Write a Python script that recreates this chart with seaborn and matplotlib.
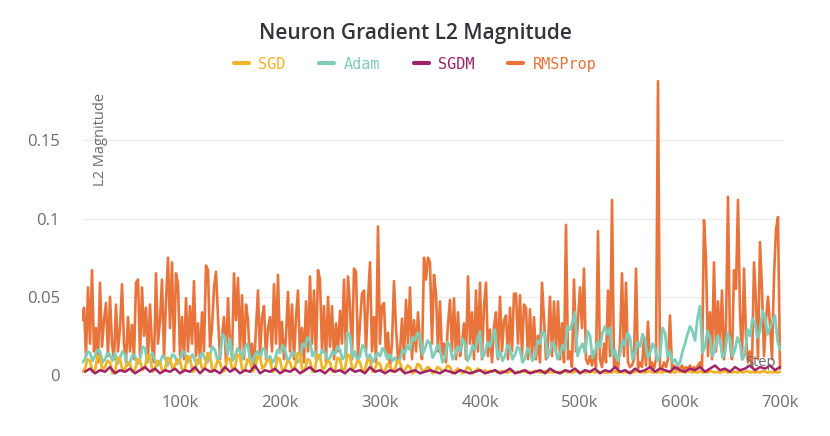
import numpy as np
import pandas as pd
import matplotlib
matplotlib.use("Agg")
import matplotlib.pyplot as plt
import seaborn as sns
from matplotlib.ticker import FuncFormatter


### Data ###

# RMSProp, one value every 2k steps (2k .. 700k)
rms_steps = np.arange(2000, 700001, 2000)
rms_vals = [
    0.035, 0.043, 0.012, 0.056, 0.020, 0.067, 0.015, 0.030, 0.008, 0.059, 0.018, 0.035, 0.046,
    0.012, 0.050, 0.020, 0.010, 0.045, 0.015, 0.030, 0.058, 0.020, 0.008, 0.037, 0.015,
    0.032, 0.010, 0.059, 0.061, 0.012, 0.056, 0.025, 0.043, 0.010, 0.045, 0.018, 0.008, 0.065,
    0.020, 0.035, 0.061, 0.012, 0.047, 0.075, 0.030, 0.072, 0.015, 0.065, 0.058, 0.012,
    0.037, 0.010, 0.049, 0.015, 0.044, 0.020, 0.060, 0.012, 0.033, 0.008, 0.040, 0.015, 0.070,
    0.067, 0.018, 0.030, 0.056, 0.066, 0.037, 0.010, 0.025, 0.037, 0.008, 0.049, 0.020,
    0.012, 0.065, 0.035, 0.062, 0.015, 0.051, 0.010, 0.045, 0.035, 0.008, 0.020, 0.005, 0.030,
    0.054, 0.012, 0.037, 0.044, 0.010, 0.030, 0.037, 0.015, 0.058, 0.020, 0.064, 0.015,
    0.034, 0.010, 0.025, 0.053, 0.015, 0.045, 0.010, 0.037, 0.054, 0.012, 0.030, 0.008, 0.047,
    0.015, 0.063, 0.020, 0.054, 0.010, 0.067, 0.061, 0.015, 0.044, 0.008, 0.050, 0.018,
    0.044, 0.010, 0.033, 0.015, 0.041, 0.020, 0.061, 0.012, 0.063, 0.044, 0.010, 0.068, 0.066,
    0.012, 0.033, 0.052, 0.054, 0.015, 0.048, 0.072, 0.015, 0.037, 0.008, 0.095, 0.020,
    0.044, 0.046, 0.012, 0.027, 0.005, 0.020, 0.060, 0.030, 0.010, 0.015, 0.036, 0.010, 0.048,
    0.020, 0.056, 0.010, 0.035, 0.015, 0.040, 0.020, 0.010, 0.075, 0.061, 0.075, 0.072,
    0.020, 0.064, 0.052, 0.015, 0.047, 0.012, 0.020, 0.008, 0.033, 0.048, 0.015, 0.049, 0.010,
    0.040, 0.012, 0.020, 0.033, 0.010, 0.063, 0.020, 0.040, 0.010, 0.054, 0.015, 0.059,
    0.010, 0.044, 0.059, 0.012, 0.029, 0.008, 0.031, 0.040, 0.010, 0.050, 0.015, 0.035, 0.038,
    0.010, 0.043, 0.015, 0.052, 0.052, 0.020, 0.051, 0.012, 0.045, 0.043, 0.010, 0.042,
    0.012, 0.037, 0.010, 0.025, 0.008, 0.059, 0.036, 0.010, 0.020, 0.050, 0.012, 0.047, 0.015,
    0.047, 0.010, 0.033, 0.008, 0.096, 0.010, 0.015, 0.005, 0.061, 0.015, 0.035, 0.056,
    0.030, 0.068, 0.010, 0.007, 0.012, 0.006, 0.015, 0.005, 0.092, 0.010, 0.005, 0.020, 0.008,
    0.054, 0.012, 0.112, 0.005, 0.010, 0.004, 0.020, 0.065, 0.012, 0.059, 0.008, 0.005,
    0.006, 0.010, 0.068, 0.004, 0.008, 0.005, 0.024, 0.006, 0.034, 0.005, 0.008, 0.004, 0.010,
    0.188, 0.005, 0.004, 0.008, 0.005, 0.010, 0.038, 0.004, 0.006, 0.003, 0.005, 0.004,
    0.006, 0.003, 0.005, 0.004, 0.006, 0.003, 0.005, 0.004, 0.006, 0.008, 0.004, 0.099, 0.074,
    0.012, 0.040, 0.010, 0.072, 0.015, 0.047, 0.020, 0.054, 0.010, 0.032, 0.114, 0.020,
    0.010, 0.067, 0.055, 0.112, 0.040, 0.010, 0.068, 0.024, 0.008, 0.015, 0.005, 0.072, 0.047,
    0.010, 0.085, 0.054, 0.012, 0.035, 0.050, 0.032, 0.010, 0.063, 0.093, 0.101, 0.004,
]

# Adam and SGD, one value every 2.5k steps (2.5k .. 700k)
steps_2k5 = np.arange(2500, 700001, 2500)
adam_vals = [
    0.008, 0.010, 0.015, 0.014, 0.009, 0.012, 0.016, 0.015, 0.008, 0.010, 0.014, 0.013, 0.009, 0.014, 0.007, 0.011, 0.015, 0.013, 0.006, 0.008,
    0.013, 0.012, 0.007, 0.010, 0.018, 0.017, 0.008, 0.012, 0.014, 0.009, 0.006, 0.008, 0.012, 0.011, 0.006, 0.009, 0.013, 0.012, 0.007, 0.010,
    0.015, 0.014, 0.008, 0.011, 0.013, 0.009, 0.007, 0.012, 0.014, 0.010, 0.008, 0.013, 0.018, 0.016, 0.009, 0.012, 0.026, 0.024, 0.013, 0.023,
    0.009, 0.012, 0.017, 0.015, 0.010, 0.018, 0.020, 0.011, 0.008, 0.013, 0.015, 0.010, 0.017, 0.016, 0.009, 0.012, 0.008, 0.010, 0.016, 0.014,
    0.019, 0.016, 0.009, 0.011, 0.015, 0.013, 0.008, 0.010, 0.020, 0.018, 0.024, 0.022, 0.012, 0.015, 0.010, 0.012, 0.016, 0.014, 0.009, 0.011,
    0.015, 0.013, 0.018, 0.016, 0.010, 0.012, 0.027, 0.025, 0.011, 0.015, 0.009, 0.012, 0.019, 0.017, 0.010, 0.013, 0.008, 0.011, 0.014, 0.012,
    0.017, 0.015, 0.010, 0.013, 0.009, 0.011, 0.008, 0.010, 0.016, 0.014, 0.019, 0.016, 0.024, 0.022, 0.027, 0.025, 0.013, 0.017, 0.022, 0.020,
    0.011, 0.014, 0.019, 0.016, 0.008, 0.011, 0.021, 0.018, 0.010, 0.013, 0.018, 0.015, 0.023, 0.020, 0.009, 0.012, 0.019, 0.016, 0.022, 0.028,
    0.011, 0.014, 0.021, 0.018, 0.024, 0.029, 0.011, 0.015, 0.009, 0.012, 0.019, 0.017, 0.010, 0.013, 0.018, 0.016, 0.008, 0.011, 0.017, 0.014,
    0.009, 0.012, 0.022, 0.020, 0.028, 0.026, 0.011, 0.015, 0.021, 0.018, 0.010, 0.013, 0.019, 0.016, 0.031, 0.029, 0.034, 0.040, 0.012, 0.017,
    0.020, 0.014, 0.028, 0.025, 0.011, 0.015, 0.021, 0.018, 0.027, 0.031, 0.026, 0.030, 0.012, 0.016, 0.009, 0.013, 0.022, 0.019, 0.027, 0.024,
    0.010, 0.014, 0.021, 0.018, 0.026, 0.023, 0.011, 0.014, 0.020, 0.017, 0.009, 0.012, 0.030, 0.027, 0.012, 0.015, 0.008, 0.010, 0.006, 0.008,
    0.015, 0.020, 0.026, 0.031, 0.028, 0.022, 0.036, 0.044, 0.014, 0.018, 0.028, 0.024, 0.012, 0.016, 0.025, 0.022, 0.011, 0.014, 0.027, 0.023,
    0.012, 0.016, 0.024, 0.020, 0.010, 0.013, 0.029, 0.025, 0.036, 0.033, 0.024, 0.028, 0.041, 0.037, 0.026, 0.030, 0.034, 0.038, 0.022, 0.016,
]
sgd_vals = [
    0.002, 0.004, 0.010, 0.009, 0.002, 0.003, 0.012, 0.011, 0.003, 0.005, 0.009, 0.008, 0.001, 0.002, 0.011, 0.010, 0.003, 0.004, 0.008, 0.007,
    0.002, 0.003, 0.010, 0.009, 0.003, 0.005, 0.013, 0.012, 0.002, 0.004, 0.009, 0.008, 0.002, 0.003, 0.011, 0.010, 0.004, 0.006, 0.010, 0.009,
    0.002, 0.004, 0.012, 0.011, 0.002, 0.003, 0.010, 0.009, 0.003, 0.005, 0.014, 0.013, 0.002, 0.004, 0.009, 0.008, 0.002, 0.003, 0.011, 0.010,
    0.003, 0.005, 0.013, 0.012, 0.002, 0.003, 0.010, 0.009, 0.002, 0.004, 0.012, 0.011, 0.004, 0.006, 0.010, 0.009, 0.002, 0.003, 0.011, 0.010,
    0.002, 0.004, 0.009, 0.008, 0.003, 0.005, 0.014, 0.013, 0.002, 0.003, 0.010, 0.009, 0.002, 0.004, 0.013, 0.012, 0.003, 0.005, 0.009, 0.008,
    0.002, 0.003, 0.011, 0.010, 0.002, 0.004, 0.013, 0.012, 0.003, 0.005, 0.009, 0.008, 0.002, 0.003, 0.010, 0.009, 0.002, 0.004, 0.008, 0.007,
    0.002, 0.003, 0.007, 0.006, 0.002, 0.004, 0.009, 0.008, 0.002, 0.003, 0.006, 0.005, 0.001, 0.002, 0.007, 0.006, 0.002, 0.003, 0.005, 0.004,
    0.001, 0.002, 0.005, 0.004, 0.002, 0.003, 0.006, 0.005, 0.001, 0.002, 0.004, 0.003, 0.001, 0.002, 0.005, 0.004, 0.001, 0.002, 0.004, 0.003,
    0.002, 0.003, 0.0015, 0.0025, 0.002, 0.003, 0.0015, 0.002, 0.0025, 0.002, 0.0015, 0.002, 0.0025, 0.0015, 0.002, 0.0015, 0.0025, 0.002, 0.0015, 0.002,
    0.0015, 0.0025, 0.002, 0.0015, 0.002, 0.0025, 0.0015, 0.002, 0.0015, 0.002, 0.0015, 0.002, 0.0015, 0.0025, 0.0015, 0.002, 0.0015, 0.002, 0.0025, 0.0015,
    0.002, 0.0015, 0.002, 0.0015, 0.0025, 0.0015, 0.002, 0.0015, 0.002, 0.0015, 0.0015, 0.002, 0.0015, 0.0025, 0.0015, 0.002, 0.0015, 0.002, 0.0015, 0.002,
    0.0015, 0.002, 0.0025, 0.0015, 0.002, 0.0015, 0.002, 0.0025, 0.0015, 0.002, 0.0015, 0.002, 0.0015, 0.0025, 0.002, 0.0015, 0.002, 0.0015, 0.0025, 0.002,
    0.002, 0.0015, 0.0025, 0.002, 0.0015, 0.002, 0.0015, 0.0025, 0.0015, 0.002, 0.0015, 0.0025, 0.002, 0.0015, 0.002, 0.0015, 0.002, 0.0025, 0.0015, 0.002,
    0.0015, 0.002, 0.0015, 0.0025, 0.0015, 0.002, 0.0025, 0.0015, 0.002, 0.0015, 0.002, 0.0015, 0.0025, 0.002, 0.0015, 0.002, 0.0015, 0.002, 0.0015, 0.002,
]

# SGDM, one value every 5k steps (5k .. 700k)
steps_5k = np.arange(5000, 700001, 5000)
sgdm_vals = [
    0.002, 0.004, 0.001, 0.003, 0.002, 0.005, 0.001, 0.003, 0.002, 0.004,
    0.001, 0.003, 0.005, 0.002, 0.004, 0.001, 0.003, 0.002, 0.004, 0.001,
    0.003, 0.002, 0.005, 0.001, 0.004, 0.002, 0.003, 0.001, 0.005, 0.002,
    0.004, 0.001, 0.003, 0.002, 0.006, 0.001, 0.003, 0.002, 0.004, 0.001,
    0.003, 0.002, 0.004, 0.001, 0.003, 0.005, 0.002, 0.003, 0.001, 0.004,
    0.002, 0.003, 0.001, 0.004, 0.002, 0.003, 0.001, 0.005, 0.002, 0.003,
    0.001, 0.003, 0.002, 0.004, 0.001, 0.002, 0.003, 0.001, 0.002, 0.003,
    0.002, 0.001, 0.003, 0.002, 0.001, 0.003, 0.002, 0.001, 0.002, 0.003,
    0.001, 0.002, 0.003, 0.001, 0.002, 0.004, 0.001, 0.002, 0.003, 0.001,
    0.002, 0.003, 0.001, 0.004, 0.002, 0.001, 0.003, 0.002, 0.004, 0.001,
    0.003, 0.002, 0.004, 0.001, 0.003, 0.002, 0.005, 0.002, 0.003, 0.001,
    0.004, 0.002, 0.003, 0.005, 0.002, 0.004, 0.003, 0.002, 0.005, 0.003,
    0.002, 0.004, 0.003, 0.005, 0.002, 0.004, 0.006, 0.003, 0.004, 0.002,
    0.005, 0.003, 0.004, 0.006, 0.003, 0.005, 0.004, 0.006, 0.003, 0.005,
]

legend_order = ["SGD", "Adam", "SGDM", "RMSProp"]
colors = {"SGD": "#f0b429", "Adam": "#7fcdb9", "SGDM": "#a0236a", "RMSProp": "#e8743b"}
x_ticks = [100000, 200000, 300000, 400000, 500000, 600000, 700000]
x_tick_labels = ["100k", "200k", "300k", "400k", "500k", "600k", "700k"]
y_ticks = [0, 0.05, 0.1, 0.15]


### Build long-form table ###

df = pd.concat([
    pd.DataFrame({"step": rms_steps, "value": rms_vals, "optimizer": "RMSProp"}),
    pd.DataFrame({"step": steps_2k5, "value": adam_vals, "optimizer": "Adam"}),
    pd.DataFrame({"step": steps_2k5, "value": sgd_vals, "optimizer": "SGD"}),
    pd.DataFrame({"step": steps_5k, "value": sgdm_vals, "optimizer": "SGDM"}),
])


### Plot ###

sns.set_style("white")
plt.rcParams["font.family"] = ["Open Sans", "DejaVu Sans"]

fig = plt.figure(figsize=(8.3, 4.36), dpi=100)
ax = fig.add_axes([82 / 830, 58 / 436, 701 / 830, 300 / 436])

widths = {"RMSProp": 1.9, "Adam": 2.0, "SGD": 2.0, "SGDM": 1.8}
for name in ["RMSProp", "Adam", "SGD", "SGDM"]:          # drawing order, bottom to top
    sns.lineplot(
        data=df[df["optimizer"] == name],
        x="step", y="value",
        color=colors[name], linewidth=widths[name],
        estimator=None, label=name, ax=ax, legend=False
    )

ax.set_xlim(2000, 703000)
ax.set_ylim(-0.002, 0.19)
ax.set_xticks(x_ticks)
ax.set_xticklabels(x_tick_labels)
ax.set_yticks(y_ticks)
ax.yaxis.set_major_formatter(FuncFormatter(lambda v, p: f"{v:g}"))
ax.grid(axis="y", color="#eeeeee", linewidth=1)
ax.set_axisbelow(True)
for s in ax.spines.values():
    s.set_visible(False)
ax.tick_params(axis="x", colors="#6b6b76", labelsize=12, length=4, color="#dddddd", pad=8)
ax.tick_params(axis="y", colors="#6b6b76", labelsize=12, length=0, pad=16)
ax.set_xlabel("")
ax.set_ylabel("")

ax.text(0.026, 0.95, "L2 Magnitude", transform=ax.transAxes, rotation=90,
        ha="center", va="top", fontsize=10.5, color="#6b6b76")
ax.text(0.99, 0.053, "Step", transform=ax.transAxes,
        ha="right", va="center", fontsize=10.5, color="#6b6b76")

fig.suptitle("Neuron Gradient L2 Magnitude", x=0.5, y=0.924, va="center",
             fontsize=15, fontweight="semibold", color="#33333a")

handles = {h.get_label(): h for h in ax.get_lines() if h.get_label() in colors}
fig.legend(
    [handles[n] for n in legend_order], legend_order,
    loc="center", bbox_to_anchor=(0.5, 0.853), ncol=4, frameon=False,
    handlelength=1.0, handletextpad=0.6, columnspacing=2.2,
    labelcolor="linecolor",
    prop={"family": "DejaVu Sans Mono", "size": 11},
)
for h in fig.legends[0].legend_handles:
    h.set_linewidth(3)

fig.savefig("out.png", dpi=100)
